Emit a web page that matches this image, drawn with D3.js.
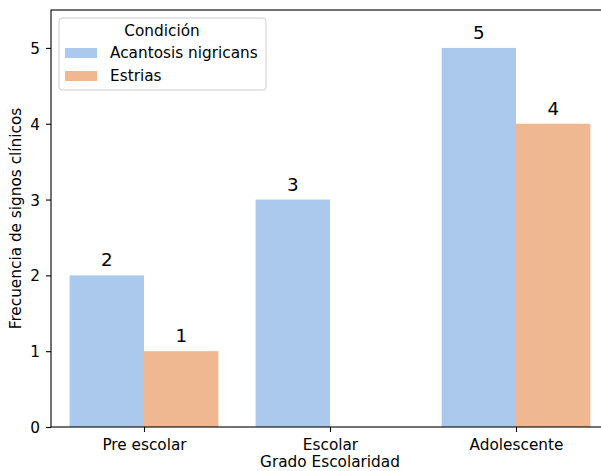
<!DOCTYPE html>
<html><head><meta charset="utf-8">
<script src="https://cdn.jsdelivr.net/npm/d3@7"></script>
<style>body{margin:0;background:#fff}svg{display:block;font-family:"DejaVu Sans",sans-serif}</style>
</head><body><svg id="c" width="601" height="471"></svg>
<script>
const categories = ["Pre escolar", "Escolar", "Adolescente"];
const seriesNames = ["Acantosis nigricans", "Estrias"];
const acantosis = [2, 3, 5];
const estrias = [1, 0, 4];
const yTicks = [0, 1, 2, 3, 4, 5];
const colors = ["#abc9ed", "#f0b891"];

const FS = 15.3;
const svg = d3.select("#c");
const m = {l: 51, r: 609, t: 10, b: 427};
const x = d3.scaleBand().domain(categories).range([m.l, m.r]).paddingInner(0.2).paddingOuter(0.1);
const xc = d3.scalePoint().domain(categories).range([m.l, m.r]).padding(0.5);
const y = d3.scaleLinear().domain([0, 5.5]).range([m.b, m.t]);
const sub = d3.scaleBand().domain(seriesNames).range([0, x.bandwidth()]);
const series = [acantosis, estrias];

const g = svg.append("g");
series.forEach((vals, si) => {
  categories.forEach((c, i) => {
    const v = vals[i];
    if (v <= 0) return;
    const bx = x(c) + sub(seriesNames[si]);
    g.append("rect").attr("x", bx).attr("y", y(v)).attr("width", sub.bandwidth()).attr("height", y(0) - y(v)).attr("fill", colors[si]);
    g.append("text").attr("x", bx + sub.bandwidth() / 2).attr("y", y(v) - 9).attr("text-anchor", "middle").attr("font-size", 18.3).attr("fill", "#000").text(v);
  });
});

// axes
const ya = svg.append("g").attr("transform", `translate(${m.l},0)`).call(d3.axisLeft(y).tickValues(yTicks).tickSize(5).tickPadding(6).tickFormat(d3.format("d")));
const xa = svg.append("g").attr("transform", `translate(0,${m.b})`).call(d3.axisBottom(xc).tickSize(5).tickPadding(6));
[ya, xa].forEach(a => { a.select(".domain").remove(); a.selectAll("text").attr("font-size", FS).attr("fill", "#000").attr("font-family", "DejaVu Sans"); a.selectAll("line").attr("stroke", "#000").attr("stroke-width", 1.1); });
ya.selectAll("text").attr("dy", "0.36em");
xa.selectAll("text").attr("dy", "0.76em");
svg.append("rect").attr("x", m.l).attr("y", m.t).attr("width", m.r - m.l).attr("height", m.b - m.t).attr("fill", "none").attr("stroke", "#000").attr("stroke-width", 1.1);

svg.append("text").attr("x", 330).attr("y", 467).attr("text-anchor", "middle").attr("font-size", FS).text("Grado Escolaridad");
svg.append("text").attr("transform", `translate(21,${(m.t + m.b) / 2}) rotate(-90)`).attr("text-anchor", "middle").attr("font-size", FS).text("Frecuencia de signos clínicos");

// legend
const lg = svg.append("g");
lg.append("rect").attr("x", 59).attr("y", 18).attr("width", 207).attr("height", 72).attr("rx", 3).attr("fill", "#fff").attr("fill-opacity", 0.8).attr("stroke", "#ccc").attr("stroke-width", 1);
lg.append("text").attr("x", 162).attr("y", 36).attr("text-anchor", "middle").attr("font-size", FS).text("Condición");
seriesNames.forEach((s, i) => {
  const yy = 48 + i * 23;
  lg.append("rect").attr("x", 65).attr("y", yy).attr("width", 32).attr("height", 10).attr("fill", colors[i]);
  lg.append("text").attr("x", 110).attr("y", yy + 10).attr("font-size", FS).text(s);
});
</script></body></html>
